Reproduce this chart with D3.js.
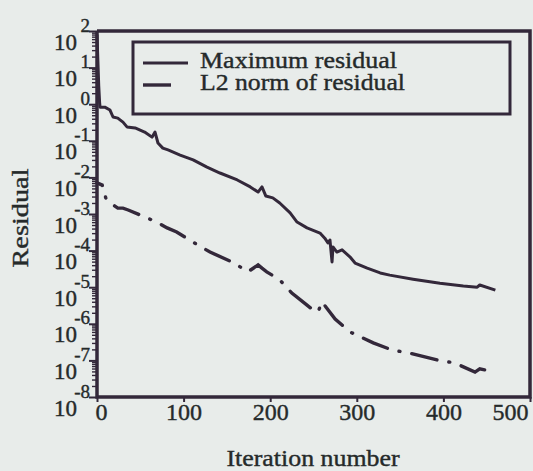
<!DOCTYPE html>
<html>
<head>
<meta charset="utf-8">
<style>
  body { margin: 0; background: #e8ecea; }
  svg { display: block; font-family: "Liberation Serif", "Times New Roman", Times, serif; }
  .tl { fill: #252a2a; stroke: #252a2a; stroke-width: 0.4px; }
</style>
</head>
<body>
<script src="https://d3js.org/d3.v7.min.js"></script>
<script>
// iterations and log10 of residual
var maxIter = [0, 1, 2, 3, 3.5, 9, 15, 18.5, 24, 30, 34.6, 44, 55, 63.5, 67, 70.4, 76, 82, 96, 111, 127, 142, 162,
  177, 186, 190.5, 195, 203, 211, 223, 231, 242.5, 257.5, 263, 266.7, 269, 271.4, 272.5, 277, 283, 292, 298,
  312, 327, 338, 365, 396, 423, 439, 442, 460];
var maxLog = [1.9, 1.2, 0.5, 0.05, -0.08, -0.08, -0.16, -0.35, -0.38, -0.49, -0.62, -0.65, -0.76, -0.9, -0.76,
  -1.06, -1.2, -1.25, -1.39, -1.52, -1.72, -1.88, -2.07, -2.26, -2.4, -2.26, -2.51, -2.56, -2.7, -2.97, -3.22,
  -3.38, -3.52, -3.66, -3.79, -3.71, -4.31, -3.9, -4.04, -3.98, -4.17, -4.34, -4.48, -4.61, -4.67, -4.78,
  -4.89, -4.97, -5.0, -4.94, -5.08];

var l2Iter = [0, 6, 10, 11.5, 18.5, 24, 30, 36, 50, 69, 81, 92, 111, 130.5, 156, 174.4, 186, 190.5, 196, 211,
  225, 242.5, 249.4, 255.2, 259.8, 275, 292, 319, 341, 361, 393, 413, 436.5, 442, 460];
var l2Log = [-2.15, -2.21, -2.55, -2.62, -2.75, -2.84, -2.84, -2.89, -3.03, -3.22, -3.38, -3.49, -3.77, -4.04,
  -4.31, -4.58, -4.39, -4.48, -4.58, -4.8, -5.16, -5.49, -5.62, -5.68, -5.4, -5.87, -6.22, -6.52, -6.72,
  -6.8, -6.99, -7.07, -7.32, -7.23, -7.32];

var xTicks = [0, 100, 200, 300, 400, 500];
var decades = [2, 1, 0, -1, -2, -3, -4, -5, -6, -7, -8];
var legendNames = ["Maximum residual", "L2 norm of residual"];

var W = 533, H = 471;
var pl = 97, pr = 530, pt = 31, pb = 397;
var ink = "#33283a";

var x = d3.scaleLinear().domain([0, 500]).range([pl, pr]);
var y = d3.scaleLog().domain([1e-8, 1e2]).range([pb, pt]);

var svg = d3.select("body").append("svg")
  .attr("width", W)
  .attr("height", H);

svg.append("rect").attr("width", W).attr("height", H).attr("fill", "#e8ecea");

var line = d3.line()
  .x(function(d) { return x(d[0]); })
  .y(function(d) { return y(Math.pow(10, d[1])); });

// plot frame, traced through the domain corners
svg.append("path")
  .datum([[0, 2], [500, 2], [500, -8], [0, -8], [0, 2]])
  .attr("d", line)
  .attr("fill", "none")
  .attr("stroke", ink)
  .attr("stroke-width", 3.5)
  .attr("stroke-linejoin", "miter");

svg.append("path")
  .datum(maxIter.map(function(v, i) { return [v, maxLog[i]]; }))
  .attr("d", line)
  .attr("fill", "none")
  .attr("stroke", ink)
  .attr("stroke-width", 3)
  .attr("stroke-linejoin", "round");

svg.append("path")
  .datum(l2Iter.map(function(v, i) { return [v, l2Log[i]]; }))
  .attr("d", line)
  .attr("fill", "none")
  .attr("stroke", ink)
  .attr("stroke-width", 3.4)
  .attr("stroke-linecap", "round")
  .attr("stroke-dasharray", "26,12,1,12")
  .attr("stroke-dashoffset", 20);

// minor ticks on the log axis
var minors = [];
decades.forEach(function(e) {
  if (e === 2) return;
  for (var k = 2; k < 10; k++) minors.push(k * Math.pow(10, e));
});

var yMinor = svg.append("g")
  .attr("transform", "translate(" + pl + ",0)")
  .call(d3.axisLeft(y).tickValues(minors).tickSize(5).tickSizeOuter(0).tickFormat(""));
yMinor.selectAll(".tick line").attr("stroke", ink).attr("stroke-width", 1.4);
yMinor.select(".domain").remove();

var yAxis = svg.append("g")
  .attr("transform", "translate(" + pl + ",0)")
  .call(d3.axisLeft(y).tickValues(decades.map(function(e) { return Math.pow(10, e); }))
    .tickSize(8).tickSizeOuter(0).tickFormat(""));
yAxis.select(".domain").remove();
yAxis.selectAll(".tick line").attr("stroke", ink).attr("stroke-width", 2);

yAxis.selectAll(".tick").each(function(d) {
  var t = d3.select(this);
  t.append("text")
    .attr("class", "tl")
    .attr("x", -20).attr("y", 18)
    .attr("text-anchor", "end")
    .style("font-size", "23px")
    .text("10");
  t.append("text")
    .attr("class", "tl")
    .attr("x", -7).attr("y", 0)
    .attr("text-anchor", "end")
    .style("font-size", "19px")
    .text(Math.round(Math.log10(d)));
});

var xAxis = svg.append("g")
  .attr("transform", "translate(0," + pb + ")")
  .call(d3.axisBottom(x).tickValues(xTicks).tickSize(5).tickSizeOuter(0).tickPadding(1));
xAxis.select(".domain").remove();
xAxis.selectAll(".tick line").attr("stroke", ink).attr("stroke-width", 2);
xAxis.selectAll(".tick text")
  .attr("class", "tl")
  .style("font-size", "24px")
  .style("font-family", "'Liberation Serif', 'Times New Roman', serif")
  .attr("dx", function(d) { return d === 0 ? 4 : 0; })
  .attr("text-anchor", function(d) { return d === 500 ? "end" : "middle"; })
  .attr("x", function(d) { return d === 500 ? -2 : 0; });
yAxis.selectAll("text").style("font-family", "'Liberation Serif', 'Times New Roman', serif");

// legend
var lg = svg.append("g");
lg.append("rect")
  .attr("x", 133).attr("y", 42)
  .attr("width", 377).attr("height", 72)
  .attr("fill", "none")
  .attr("stroke", ink)
  .attr("stroke-width", 3);
lg.append("line")
  .attr("x1", 143).attr("x2", 188).attr("y1", 63).attr("y2", 63)
  .attr("stroke", ink).attr("stroke-width", 3);
lg.append("line")
  .attr("x1", 143).attr("x2", 171).attr("y1", 85).attr("y2", 85)
  .attr("stroke", ink).attr("stroke-width", 3.4);
lg.selectAll("text.leg")
  .data(legendNames)
  .enter().append("text")
  .attr("class", "tl leg")
  .attr("x", 200)
  .attr("y", function(d, i) { return 68 + i * 22; })
  .attr("textLength", function(d, i) { return i === 0 ? 197 : 205; })
  .attr("lengthAdjust", "spacingAndGlyphs")
  .style("font-size", "24px")
  .text(function(d) { return d; });

// axis titles
svg.append("text")
  .attr("class", "tl")
  .attr("x", 313).attr("y", 466)
  .attr("text-anchor", "middle")
  .attr("textLength", 173)
  .attr("lengthAdjust", "spacingAndGlyphs")
  .style("font-size", "24px")
  .text("Iteration number");

svg.append("text")
  .attr("class", "tl")
  .attr("transform", "translate(28,218) rotate(-90)")
  .attr("text-anchor", "middle")
  .attr("textLength", 99)
  .attr("lengthAdjust", "spacingAndGlyphs")
  .style("font-size", "24px")
  .text("Residual");
</script>
</body>
</html>
